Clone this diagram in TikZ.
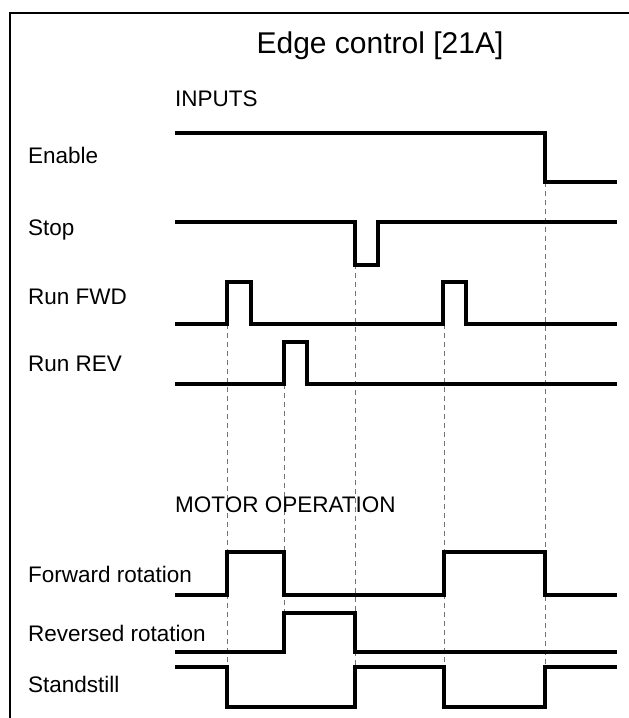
\documentclass[tikz,border=0pt]{standalone}
\usepackage{fontspec}
\setmainfont{Liberation Sans}
\usetikzlibrary{positioning}

\begin{document}
\begin{tikzpicture}[x=1pt, y=-1pt,
    sig/.style={line width=3.2pt, line join=miter},
    guide/.style={black!55, line width=0.9pt, dash pattern=on 5pt off 4pt},
    lbl/.style={anchor=base west, inner sep=0pt, font=\fontsize{22.5}{26}\selectfont},
    ttl/.style={anchor=base, inner sep=0pt, font=\fontsize{30}{36}\selectfont}]
  \useasboundingbox (0,0) rectangle (629,718);
  % frame
  \draw[line width=2.6pt] (10,718) -- (10,13) -- (629,13);

  % guide lines from the input edges
  \foreach \x/\ya/\yb in {227/324/667, 284/384/652, 355/264/667, 444/324/667, 545/182/667}
    \draw[guide] (\x,\ya) -- (\x,\yb);

  % texts
  \node[ttl] (title) at (380,53) {Edge control [21A]};
  \node[lbl] (inputs) at (175,106) {INPUTS};
  \node[lbl] (enable) at (28,163) {Enable};
  \node[lbl] (stop) at (28,235) {Stop};
  \node[lbl] (runfwd) at (28,304) {Run FWD};
  \node[lbl] (runrev) at (28,371) {Run REV};
  \node[lbl] (motor) at (175,512) {MOTOR OPERATION};
  \node[lbl] (fwdrot) at (28,582) {Forward rotation};
  \node[lbl] (revrot) at (28,641) {Reversed rotation};
  \node[lbl] (still) at (28,692) {Standstill};

  % inputs
  \draw[sig] (175,133) -- (545,133) -- (545,182) -- (617,182);
  \draw[sig] (175,222) -- (355,222) -- (355,265) -- (378,265) -- (378,222) -- (617,222);
  \draw[sig] (175,324) -- (227,324) -- (227,282) -- (251,282) -- (251,324)
    -- (443,324) -- (443,282) -- (466,282) -- (466,324) -- (617,324);
  \draw[sig] (175,384) -- (284,384) -- (284,342) -- (307,342) -- (307,384) -- (617,384);

  % motor operation
  \draw[sig] (175,595) -- (227,595) -- (227,552) -- (284,552) -- (284,595)
    -- (444,595) -- (444,552) -- (545,552) -- (545,595) -- (617,595);
  \draw[sig] (175,652) -- (284,652) -- (284,613) -- (355,613) -- (355,652) -- (617,652);
  \draw[sig] (175,667) -- (227,667) -- (227,707) -- (355,707) -- (355,667)
    -- (444,667) -- (444,707) -- (545,707) -- (545,667) -- (617,667);
\end{tikzpicture}
\end{document}
